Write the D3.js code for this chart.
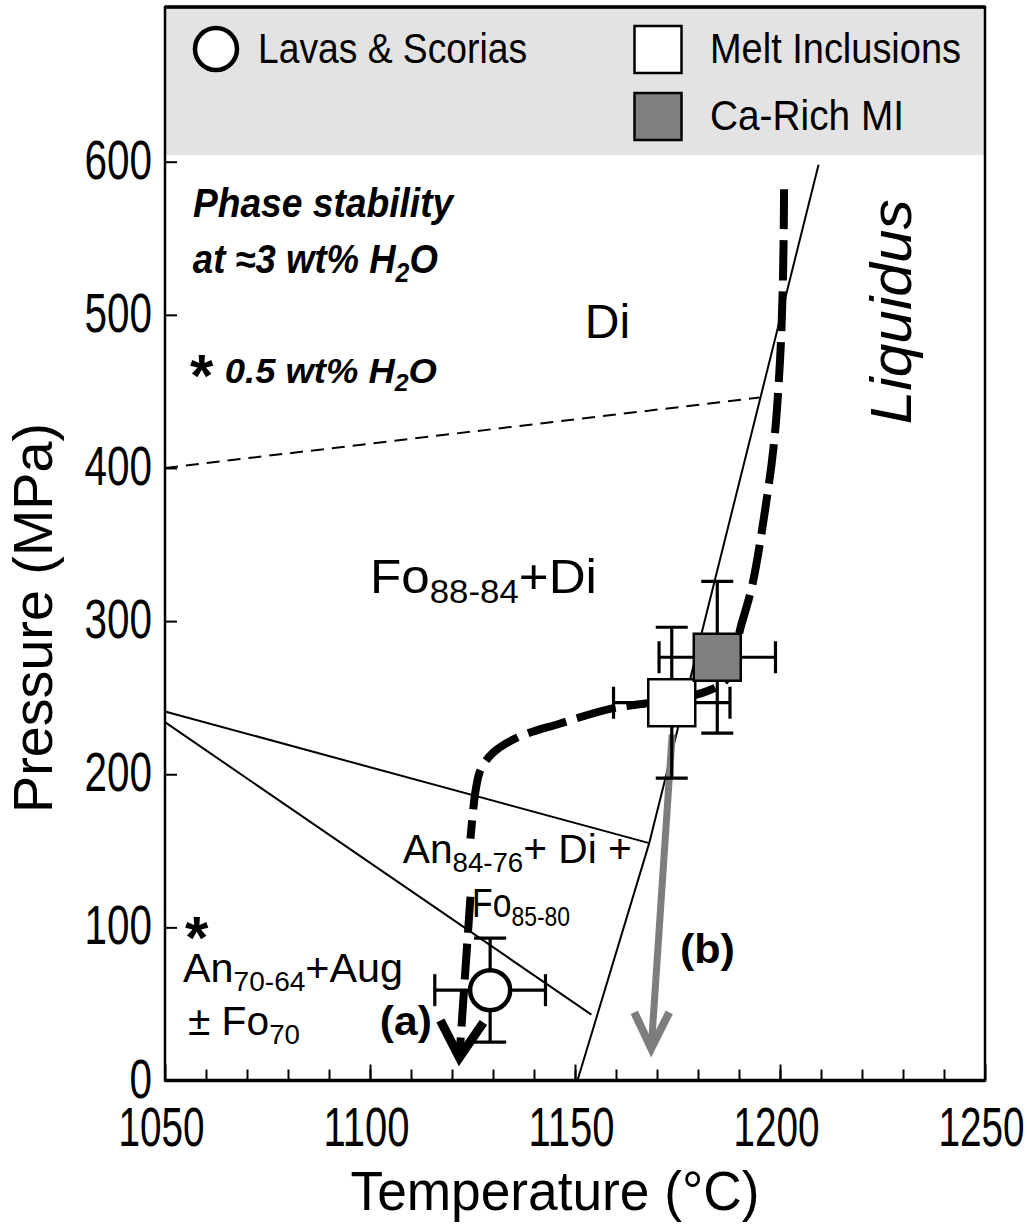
<!DOCTYPE html>
<html>
<head>
<meta charset="utf-8">
<script src="https://cdn.jsdelivr.net/npm/d3@7"></script>
<style>body{margin:0;background:#fff}</style>
</head>
<body>
<svg id="chart"></svg>
<script>
// ---- data (temperature in °C, pressure in MPa) ----
const xTicks = [1050, 1100, 1150, 1200, 1250];
const yTicks = [0, 100, 200, 300, 400, 500, 600];

const liquidus = [[1150.6, 0], [1168.1, 155], [1209.4, 598]];
const upperBoundary = [[1050, 241], [1168.1, 155]];
const lowerBoundary = [[1050, 234], [1154, 43]];
const diBoundary = [[1050, 400], [1195, 446]];
const ascentPath = [[1201.0, 582], [1200.7, 520], [1200.0, 470], [1198.6, 418], [1196.5, 375],
  [1193.2, 323], [1190.5, 297], [1186.9, 262], [1182, 254], [1175, 249.5], [1167.7, 246.4],
  [1159.1, 243], [1146.2, 233], [1136, 224], [1130, 214], [1127, 203], [1125.8, 190], [1124.5, 158]];
const arrowA = [[1124.5, 120], [1121.8, 15]];
const arrowB = [[1173.7, 226], [1168.6, 21]];

const lavas = [{t: 1129.3, p: 59, dt: 13.5, dp: 34}];
const meltInclusions = [{t: 1173.6, p: 246.7, dt: 14.2, dp: 49.3}];
const caRichMI = [{t: 1184.7, p: 276.4, dt: 14.2, dp: 49.5}];

// ---- setup ----
const W = 1027, H = 1226;
const FONT = "'Liberation Sans', Arial, sans-serif";
const svg = d3.select('#chart').attr('width', W).attr('height', H);
svg.append('rect').attr('width', W).attr('height', H).attr('fill', '#fff');

const x = d3.scaleLinear().domain([1050, 1250]).range([165, 985]);
const y = d3.scaleLinear().domain([0, 600]).range([1080.5, 161.7]);
const frameTop = 7;

// legend panel background
svg.append('rect')
  .attr('x', x(1050)).attr('y', frameTop)
  .attr('width', x(1250) - x(1050)).attr('height', 148)
  .attr('fill', '#e3e3e3');

// stretch a text element horizontally to a target width (the original font is condensed)
function fitWidth(sel, w) {
  const bb = sel.node().getBBox();
  const s = w / bb.width;
  sel.attr('transform', `translate(${bb.x},0) scale(${s},1) translate(${-bb.x},0)`);
  return sel;
}

// text with subscripts: parts = [[str], [str, 'sub'], ...]
function rich(g, px, py, parts, size, style) {
  const t = g.append('text').attr('x', px).attr('y', py)
    .attr('font-family', FONT).attr('font-size', size);
  if (style) Object.entries(style).forEach(([k, v]) => t.attr(k, v));
  let shift = 0;
  parts.forEach(p => {
    const target = p[1] === 'sub' ? size * 0.22 : 0;
    t.append('tspan')
      .attr('dy', target - shift)
      .attr('font-size', p[1] === 'sub' ? size * 0.68 : size)
      .text(p[0]);
    shift = target;
  });
  return t;
}

// ---- axes ----
const minorX = d3.axisBottom(x).tickValues(d3.range(1060, 1250, 10))
  .tickSize(-11).tickSizeOuter(0).tickFormat('');
const majorX = d3.axisBottom(x).tickValues(xTicks)
  .tickSize(-16).tickSizeOuter(0).tickPadding(26).tickFormat(d3.format('d'));
const yAxis = d3.axisLeft(y).tickValues(yTicks)
  .tickSize(-12).tickSizeOuter(0).tickPadding(13).tickFormat(d3.format('d'));

const gxMinor = svg.append('g').attr('transform', `translate(0,${y(0)})`).call(minorX);
const gx = svg.append('g').attr('transform', `translate(0,${y(0)})`).call(majorX);
const gy = svg.append('g').attr('transform', `translate(${x(1050)},0)`).call(yAxis);

[gxMinor, gx, gy].forEach(g => {
  g.select('.domain').remove();
  g.selectAll('line').attr('stroke', '#000').attr('stroke-width', 2);
});

gx.selectAll('text')
  .attr('font-family', FONT).attr('font-size', 55).attr('fill', '#000')
  .attr('dx', -4)
  .attr('textLength', d => String(d).length * 21.5)
  .attr('lengthAdjust', 'spacingAndGlyphs');
gy.selectAll('text')
  .attr('font-family', FONT).attr('font-size', 55).attr('fill', '#000')
  .attr('dy', '0.3em')
  .attr('textLength', d => String(d).length * 22.5)
  .attr('lengthAdjust', 'spacingAndGlyphs');

// axis titles
svg.append('text')
  .attr('x', 555).attr('y', 1210)
  .attr('text-anchor', 'middle')
  .attr('font-family', FONT).attr('font-size', 55)
  .attr('textLength', 409).attr('lengthAdjust', 'spacingAndGlyphs')
  .text('Temperature  (°C)');
svg.append('text')
  .attr('transform', 'translate(52,618) rotate(-90)')
  .attr('text-anchor', 'middle')
  .attr('font-family', FONT).attr('font-size', 55)
  .attr('textLength', 390).attr('lengthAdjust', 'spacingAndGlyphs')
  .text('Pressure  (MPa)');

// ---- phase boundaries ----
const line = d3.line().x(d => x(d[0])).y(d => y(d[1]));
const plot = svg.append('g');

plot.append('path').datum(liquidus).attr('d', line)
  .attr('fill', 'none').attr('stroke', '#000').attr('stroke-width', 2);
plot.append('path').datum(upperBoundary).attr('d', line)
  .attr('fill', 'none').attr('stroke', '#000').attr('stroke-width', 2);
plot.append('path').datum(lowerBoundary).attr('d', line)
  .attr('fill', 'none').attr('stroke', '#000').attr('stroke-width', 2);
plot.append('path').datum(diBoundary).attr('d', line)
  .attr('fill', 'none').attr('stroke', '#000').attr('stroke-width', 2)
  .attr('stroke-dasharray', '13,8');

// thick dashed ascent path
plot.append('path').datum(ascentPath)
  .attr('d', d3.line().curve(d3.curveCatmullRom.alpha(0.5)).x(d => x(d[0])).y(d => y(d[1])))
  .attr('fill', 'none').attr('stroke', '#000').attr('stroke-width', 8)
  .attr('stroke-dasharray', '40,11');

// arrows (a) and (b)
function arrow(data, color, width, dash, armL, armR) {
  plot.append('path').datum(data).attr('d', line)
    .attr('fill', 'none').attr('stroke', color).attr('stroke-width', width)
    .attr('stroke-dasharray', dash);
  const ax = x(data[1][0]), ay = y(data[1][1]);
  plot.append('path')
    .attr('d', `M${ax + armL[0]},${ay + armL[1]}L${ax},${ay}L${ax + armR[0]},${ay + armR[1]}`)
    .attr('fill', 'none').attr('stroke', color).attr('stroke-width', width + 1)
    .attr('stroke-linejoin', 'miter');
}
arrow(arrowA, '#000', 8, '36,11', [-19, -37], [24, -35]);
arrow(arrowB, '#7d7d7d', 7, null, [-17, -36], [18, -36]);

// ---- data points with error bars ----
function errorBars(data) {
  const cap = 16;
  const g = plot.append('g').attr('stroke', '#000').attr('stroke-width', 3.2);
  data.forEach(d => {
    const cx = x(d.t), cy = y(d.p);
    const x0 = x(d.t - d.dt), x1 = x(d.t + d.dt);
    const y0 = y(d.p - d.dp), y1 = y(d.p + d.dp);
    g.append('line').attr('x1', x0).attr('x2', x1).attr('y1', cy).attr('y2', cy);
    g.append('line').attr('x1', cx).attr('x2', cx).attr('y1', y0).attr('y2', y1);
    g.append('line').attr('x1', x0).attr('x2', x0).attr('y1', cy - cap).attr('y2', cy + cap);
    g.append('line').attr('x1', x1).attr('x2', x1).attr('y1', cy - cap).attr('y2', cy + cap);
    g.append('line').attr('x1', cx - cap).attr('x2', cx + cap).attr('y1', y0).attr('y2', y0);
    g.append('line').attr('x1', cx - cap).attr('x2', cx + cap).attr('y1', y1).attr('y2', y1);
  });
}
errorBars(lavas);
errorBars(meltInclusions);
errorBars(caRichMI);

const SQ = 47;
plot.selectAll('circle.lava').data(lavas).join('circle').attr('class', 'lava')
  .attr('cx', d => x(d.t)).attr('cy', d => y(d.p)).attr('r', 20)
  .attr('fill', '#fff').attr('stroke', '#000').attr('stroke-width', 4.5);
plot.selectAll('rect.mi').data(meltInclusions).join('rect').attr('class', 'mi')
  .attr('x', d => x(d.t) - SQ / 2).attr('y', d => y(d.p) - SQ / 2)
  .attr('width', SQ).attr('height', SQ)
  .attr('fill', '#fff').attr('stroke', '#000').attr('stroke-width', 2.5);
plot.selectAll('rect.ca').data(caRichMI).join('rect').attr('class', 'ca')
  .attr('x', d => x(d.t) - SQ / 2).attr('y', d => y(d.p) - SQ / 2)
  .attr('width', SQ).attr('height', SQ)
  .attr('fill', '#7f7f7f').attr('stroke', '#000').attr('stroke-width', 2.5);

// ---- annotations ----
const ann = svg.append('g').attr('fill', '#000');

ann.append('text').attr('x', x(1152.4)).attr('y', y(484.9))
  .attr('font-family', FONT).attr('font-size', 48).text('Di');
fitWidth(rich(ann, x(1100), y(318.4), [['Fo'], ['88-84', 'sub'], ['+Di']], 48), 227);
fitWidth(rich(ann, x(1108), y(142), [['An'], ['84-76', 'sub'], ['+ Di +']], 40), 229);
fitWidth(rich(ann, x(1124.9), y(106.8), [['Fo'], ['85-80', 'sub']], 40), 98);
fitWidth(rich(ann, x(1054.4), y(64.3), [['An'], ['70-64', 'sub'], ['+Aug']], 40), 220);
fitWidth(rich(ann, x(1055.6), y(29.7), [['± Fo'], ['70', 'sub']], 40), 112);

ann.append('text').attr('x', x(1054.9)).attr('y', y(80))
  .attr('font-family', FONT).attr('font-size', 60).attr('font-weight', 'bold').text('*');
ann.append('text').attr('x', x(1056.1)).attr('y', y(447))
  .attr('font-family', FONT).attr('font-size', 60).attr('font-weight', 'bold').text('*');

fitWidth(ann.append('text').attr('x', x(1102.4)).attr('y', y(29.7))
  .attr('font-family', FONT).attr('font-size', 40).attr('font-weight', 'bold').text('(a)'), 52);
fitWidth(ann.append('text').attr('x', x(1175.6)).attr('y', y(76.7))
  .attr('font-family', FONT).attr('font-size', 40).attr('font-weight', 'bold').text('(b)'), 55);

const bi = {'font-weight': 'bold', 'font-style': 'italic'};
fitWidth(rich(ann, x(1056.8), y(563.9), [['Phase stability']], 40, bi), 262);
fitWidth(rich(ann, x(1056.8), y(527.3), [['at ≈3 wt%  H'], ['2', 'sub'], ['O']], 40, bi), 245);
fitWidth(rich(ann, x(1064.6), y(455.6), [['0.5 wt% H'], ['2', 'sub'], ['O']], 36, bi), 212);

ann.append('text')
  .attr('transform', `translate(${x(1232)},${y(502)}) rotate(-90)`)
  .attr('text-anchor', 'middle')
  .attr('font-family', FONT).attr('font-size', 58).attr('font-style', 'italic')
  .attr('textLength', 225).attr('lengthAdjust', 'spacingAndGlyphs')
  .text('Liquidus');

// ---- legend ----
const leg = svg.append('g');
leg.append('circle').attr('cx', 216).attr('cy', 49).attr('r', 21)
  .attr('fill', '#fff').attr('stroke', '#000').attr('stroke-width', 4.5);
leg.append('rect').attr('x', 658 - SQ / 2).attr('y', 49.5 - SQ / 2).attr('width', SQ).attr('height', SQ)
  .attr('fill', '#fff').attr('stroke', '#000').attr('stroke-width', 2.5);
leg.append('rect').attr('x', 658 - SQ / 2).attr('y', 116.5 - SQ / 2).attr('width', SQ).attr('height', SQ)
  .attr('fill', '#7f7f7f').attr('stroke', '#000').attr('stroke-width', 2.5);
[['Lavas & Scorias', 258, 63, 269], ['Melt Inclusions', 710, 63, 251], ['Ca-Rich MI', 710, 130, 194]]
  .forEach(([s, px, py, w]) => {
    leg.append('text').attr('x', px).attr('y', py)
      .attr('font-family', FONT).attr('font-size', 43)
      .attr('textLength', w).attr('lengthAdjust', 'spacingAndGlyphs').text(s);
  });

// ---- frame ----
svg.append('rect')
  .attr('x', x(1050)).attr('y', frameTop)
  .attr('width', x(1250) - x(1050)).attr('height', y(0) - frameTop)
  .attr('fill', 'none').attr('stroke', '#000').attr('stroke-width', 2.5);
svg.append('line').attr('x1', x(1050)).attr('x2', x(1250)).attr('y1', y(0)).attr('y2', y(0))
  .attr('stroke', '#000').attr('stroke-width', 3.5);
svg.append('line').attr('x1', x(1050)).attr('x2', x(1250)).attr('y1', frameTop).attr('y2', frameTop)
  .attr('stroke', '#000').attr('stroke-width', 3.5);
</script>
</body>
</html>
